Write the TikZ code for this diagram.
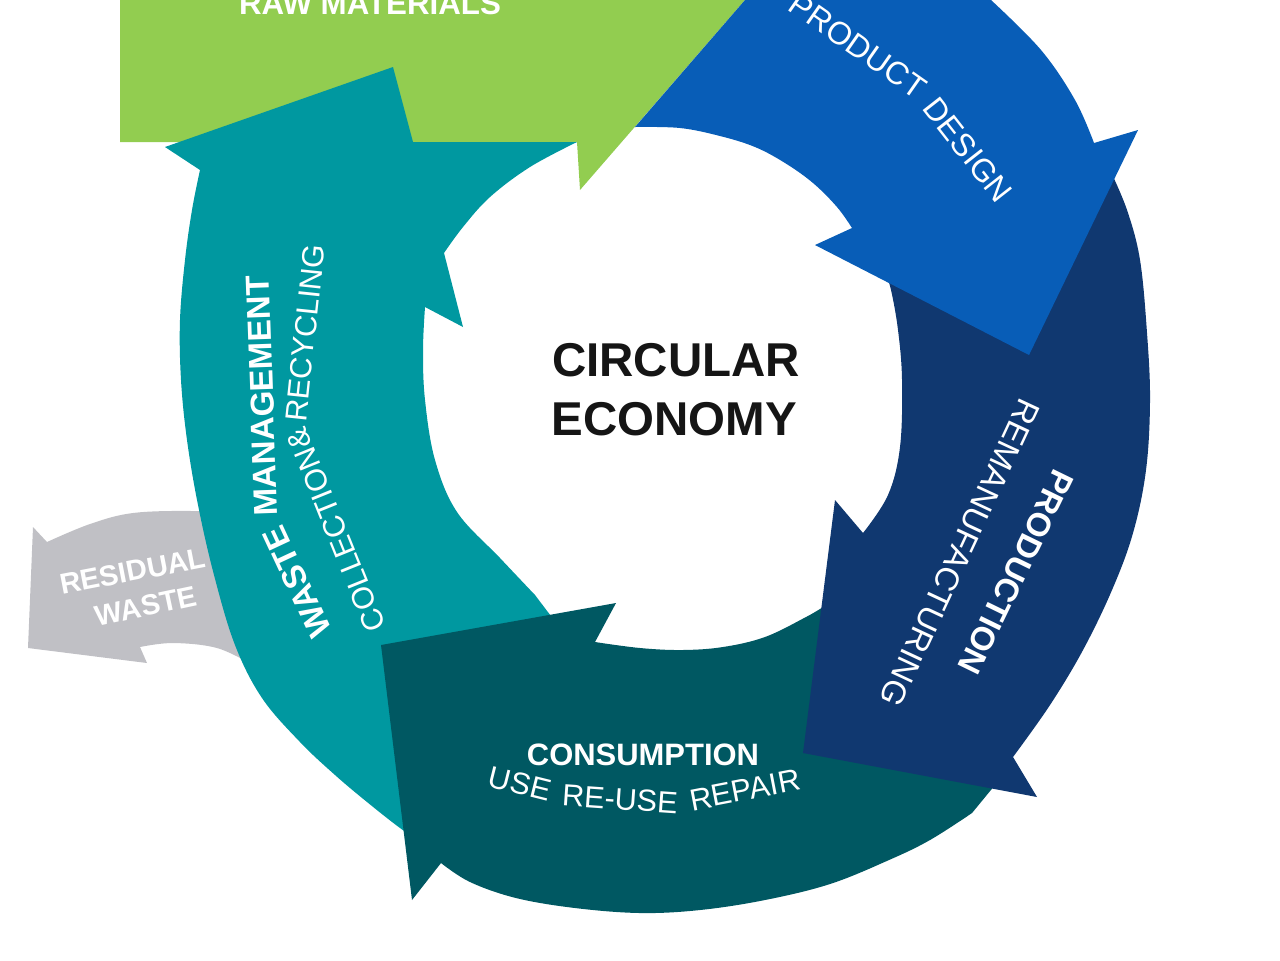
\documentclass[tikz,border=0pt]{standalone}
\usepackage{fontspec}
\setmainfont{Liberation Sans}
\usepackage{tikz}

\definecolor{rawgreen}{HTML}{92CD50}
\definecolor{designblue}{HTML}{085DB7}
\definecolor{prodnavy}{HTML}{103870}
\definecolor{consteal}{HTML}{005862}
\definecolor{wasteteal}{HTML}{0098A0}
\definecolor{residgrey}{HTML}{C0C0C5}
\definecolor{titleblack}{HTML}{151515}

\begin{document}
\begin{tikzpicture}[x=0.01cm, y=-0.01cm,
	lbl/.style={text=white, inner sep=0pt, font=\fontsize{#1}{#1}\selectfont},
	blbl/.style={text=white, inner sep=0pt, font=\fontsize{#1}{#1}\selectfont\bfseries},
	ring/.style={smooth, tension=0.6}]
	\useasboundingbox (0,0) rectangle (1280,960);
	\clip (0,0) rectangle (1280,960);

	% Residual waste
	\fill[residgrey] (28,648) -- (33,527) -- plot[ring] coordinates {(47,542) (90,524) (133,513) (193,511) (240,514)}
		-- (285,690) -- plot[ring] coordinates {(253,665) (217,648) (173,643) (140,647)} -- (147,663) -- cycle;

	% Raw materials
	\fill[rawgreen] (120,-30) -- (120,142) -- (577,142) -- (580,190) -- (771,-30) -- cycle;

	% Waste management
	\fill[wasteteal] (393,67) -- (165,147)
		-- plot[ring] coordinates {(200,170) (192,210) (185,260) (180,320) (181,380) (187,440) (198,505) (214,575) (235,645) (262,698) (300,742) (335,775) (367,802) (400,828) (425,845)}
		-- (560,628) -- plot[ring] coordinates {(535,595) (500,558) (457,512) (435,460) (425,400) (423,350) (425,307)}
		-- (463,327) -- plot[ring] coordinates {(444,253) (463,227) (490,197) (530,167) (577,142)} -- (413,142) -- cycle;

	% Consumption
	\fill[consteal] (616,603) -- plot[ring] coordinates {(595,642) (640,648) (682,650) (723,647) (765,637) (806,617) (823,607)}
		-- (838,600) -- (995,785)
		-- plot[ring] coordinates {(972,813) (930,840) (889,860) (830,884) (765,900) (700,910) (640,913) (575,908) (516,898) (470,882) (441,863)}
		-- (412,900) -- (381,645) -- cycle;

	% Production
	\fill[prodnavy] plot[ring] coordinates {(884,268) (891,290) (898,330) (902,380) (900,447) (888,495) (863,533)}
		-- (835,500) -- (803,753) -- (1037,797)
		-- plot[ring] coordinates {(1013,757) (1050,705) (1083,650) (1112,590) (1133,533) (1146,470) (1150,400) (1147,333) (1140,260) (1127,210) (1110,170)} -- cycle;

	% Product design
	\fill[designblue] (635,127) -- (771,-30) -- (955,-30) -- plot[ring] coordinates {(991,0) (1041,50) (1075,100) (1094,143)}
		-- (1138,130) -- (1029,355) -- (815,245)
		-- plot[ring] coordinates {(852,228) (837,207) (813,183) (785,163) (755,147) (720,136) (680,128) (635,127)} -- cycle;

	% Labels
	\node (RawTxt) [blbl=8.9] at (370,4) {RAW MATERIALS};
	\node (ProdTxt) [lbl=9.1, rotate=-35] at (858,46) {PRODUCT};
	\node (DesTxt) [lbl=9.1, rotate=-52] at (968,150) {DESIGN};
	\node (PrdnTxt) [blbl=9.4, rotate=-116] at (1016,572) {PRODUCTION};
	\node (RemanTxt) [lbl=9.4, rotate=-115] at (960,553) {REMANUFACTURING};
	\node (ConsTxt) [blbl=8.8] at (643,755) {CONSUMPTION};
	\node (UseTxt) [lbl=8.7, rotate=-14] at (520,784) {USE};
	\node (ReuseTxt) [lbl=8.7, rotate=-4] at (620,799) {RE-USE};
	\node (RepTxt) [lbl=8.7, rotate=11] at (745,790) {REPAIR};
	\node (WasteTxt) [blbl=9.4, rotate=115] at (297,582) {WASTE};
	\node (MgmtTxt) [blbl=9.4, rotate=92] at (262,396) {MANAGEMENT};
	\node (CollTxt) [lbl=8.7, rotate=112] at (336,530) {COLLECTION\&};
	\node (RecTxt) [lbl=8.7, rotate=84] at (305,333) {RECYCLING};
	\node (ResTxt) [blbl=8.2, rotate=11] at (133,571) {RESIDUAL};
	\node (ResWTxt) [blbl=8.2, rotate=12] at (146,606) {WASTE};

	% Centre
	\node (CircTxt) [text=titleblack, inner sep=0pt, font=\fontsize{13.5}{13.5}\selectfont\bfseries] at (676,360) {CIRCULAR};
	\node (EconTxt) [text=titleblack, inner sep=0pt, font=\fontsize{13.5}{13.5}\selectfont\bfseries] at (674,419) {ECONOMY};

\end{tikzpicture}
\end{document}
